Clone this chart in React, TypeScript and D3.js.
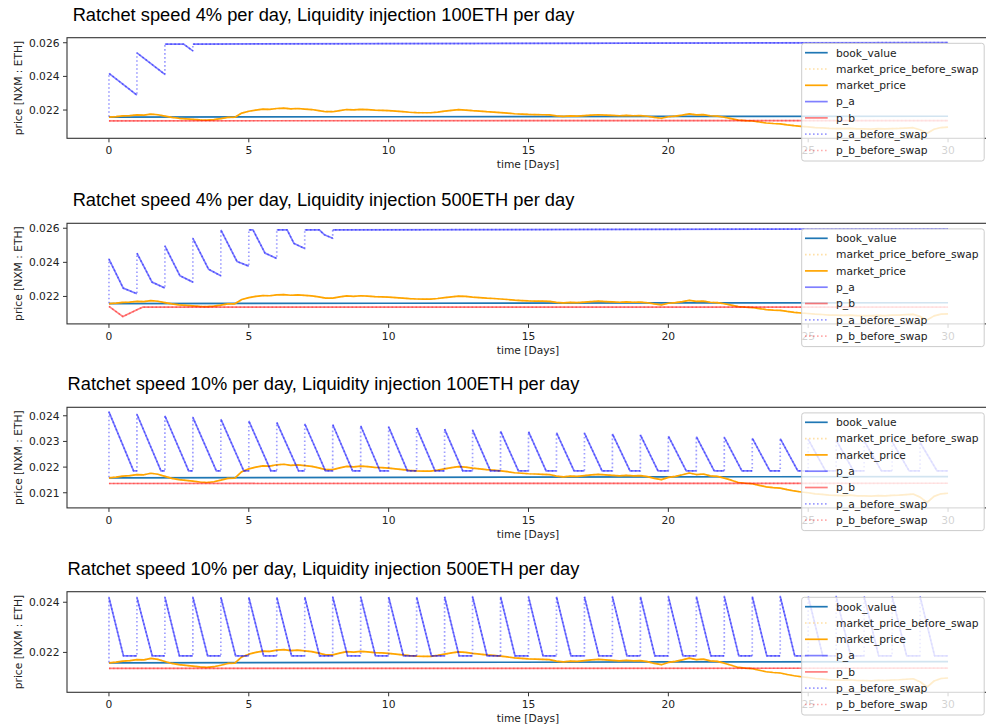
import React from "react";
import * as d3 from "d3";

// ---------- data ----------
const titles = [
  "Ratchet speed 4% per day, Liquidity injection 100ETH per day",
  "Ratchet speed 4% per day, Liquidity injection 500ETH per day",
  "Ratchet speed 10% per day, Liquidity injection 100ETH per day",
  "Ratchet speed 10% per day, Liquidity injection 500ETH per day",
];
const xTicks = [0, 5, 10, 15, 20, 25, 30];
const yTicks1 = [0.022, 0.024, 0.026];
const yTicks2 = [0.022, 0.024, 0.026];
const yTicks3 = [0.021, 0.022, 0.023, 0.024];
const yTicks4 = [0.022, 0.024];
const yDomain1 = [0.02032, 0.0263];
const yDomain2 = [0.02039, 0.02629];
const yDomain3 = [0.02041, 0.02433];
const yDomain4 = [0.02041, 0.02442];

const legendLabels = [
  "book_value",
  "market_price_before_swap",
  "market_price",
  "p_a",
  "p_b",
  "p_a_before_swap",
  "p_b_before_swap",
];

// book value (time in days, price)
const bookT = [0, 10, 20, 30];
const bookV = [0.02158, 0.0216, 0.02162, 0.02163];

// market price sampled every 0.25 day from t = 0 to 30
const marketStep = 0.25;
const marketV = [
  0.02158, 0.02161, 0.02165, 0.02167, 0.02171, 0.0217, 0.02176, 0.02172,
  0.02164, 0.02156, 0.02151, 0.02148, 0.02145, 0.02142, 0.0214, 0.02143,
  0.02149, 0.02156, 0.02157, 0.02182, 0.02193, 0.022, 0.02205, 0.02204,
  0.02209, 0.02211, 0.02207, 0.02209, 0.02206, 0.02203, 0.02197, 0.0219,
  0.0219, 0.02197, 0.02203, 0.02201, 0.02204, 0.02202, 0.02199, 0.02198,
  0.02196, 0.02193, 0.0219, 0.02187, 0.02185, 0.02184, 0.02184, 0.02188,
  0.02193, 0.02198, 0.02202, 0.022, 0.02196, 0.02193, 0.0219, 0.02188,
  0.02185, 0.02182, 0.02178, 0.02176, 0.02174, 0.02173, 0.02172, 0.02171,
  0.02165, 0.02162, 0.02165, 0.02164, 0.02167, 0.0217, 0.02172, 0.0217,
  0.02168, 0.02166, 0.02168, 0.02166, 0.02167, 0.02163, 0.02156, 0.02151,
  0.0216, 0.02164, 0.0217, 0.02177, 0.02171, 0.02173, 0.02166, 0.02164,
  0.02157, 0.02149, 0.0214, 0.02137, 0.02135, 0.02129, 0.02123, 0.0212,
  0.02118, 0.02112, 0.02107, 0.02103, 0.021, 0.02096, 0.02094, 0.02091,
  0.0209, 0.02089, 0.02091, 0.02088, 0.02088, 0.02087, 0.02089, 0.02088,
  0.0209, 0.02091, 0.02093, 0.02095, 0.02083, 0.02062, 0.02086, 0.02096,
  0.02098,
];

const bookStart = 0.0216;

// p_a, panel 1 (4%, 100ETH): vertices; repeated times are jumps
const pa1T = [0, 1, 1, 2, 2, 2.67, 3, 3, 30];
const pa1V = [0.02418, 0.02289, 0.0254, 0.02412, 0.02592, 0.02592, 0.02552, 0.02592, 0.02601];

// p_a, panel 2 (4%, 500ETH)
const pa2T = [0, 0.51, 1, 1, 1.54, 2, 2, 2.54, 3, 3, 3.56, 4, 4, 4.58, 5, 5, 5.15, 5.58, 6, 6, 6.37, 6.62, 7, 7, 7.52, 7.7, 8, 8, 30];
const pa2V = [
  0.02419, 0.02249, 0.02216, 0.02454, 0.02284, 0.02249, 0.02496, 0.02321, 0.02284,
  0.02541, 0.0236, 0.02321, 0.0259, 0.02405, 0.02378, 0.0259, 0.0259, 0.02454, 0.02423,
  0.0259, 0.0259, 0.0251, 0.02481, 0.0259, 0.0259, 0.02562, 0.02541, 0.0259, 0.02597,
];

// p_a, panel 3 (10%, 100ETH): daily peak and fraction of day to reach the floor
const pa3Peak = [
  0.02415, 0.02406, 0.024, 0.02394, 0.02387, 0.0238, 0.02374, 0.02369, 0.02366, 0.02361,
  0.02357, 0.02353, 0.02348, 0.02344, 0.0234, 0.02338, 0.02334, 0.02332, 0.02329, 0.02326,
  0.02321, 0.02319, 0.02316, 0.02313, 0.02311, 0.02308, 0.02305, 0.02302, 0.02299, 0.02296,
];
const pa3Frac = [
  0.88, 0.86, 0.85, 0.84, 0.82, 0.79, 0.78, 0.74, 0.71, 0.69,
  0.67, 0.66, 0.65, 0.64, 0.64, 0.63, 0.63, 0.63, 0.63, 0.63,
  0.64, 0.64, 0.63, 0.63, 0.63, 0.62, 0.62, 0.62, 0.61, 0.61,
];
const pa3Floor = 0.02185;

// p_a, panel 4 (10%, 500ETH)
const pa4Peak = [
  0.02419, 0.02419, 0.0242, 0.0242, 0.0242, 0.0242, 0.0242, 0.02421, 0.02421, 0.02421,
  0.02421, 0.02421, 0.02422, 0.02422, 0.02422, 0.02422, 0.02422, 0.02422, 0.02422, 0.02422,
  0.02423, 0.02423, 0.02423, 0.02423, 0.02423, 0.02423, 0.02423, 0.02423, 0.02423, 0.02423,
];
const pa4Frac = [
  0.52, 0.55, 0.52, 0.53, 0.53, 0.53, 0.53, 0.53, 0.53, 0.53,
  0.53, 0.53, 0.52, 0.52, 0.52, 0.52, 0.52, 0.52, 0.52, 0.52,
  0.52, 0.52, 0.52, 0.52, 0.52, 0.52, 0.52, 0.52, 0.52, 0.52,
];
const pa4Floor = 0.02186;

// p_b
const pbFlatT = [0, 30];
const pbFlatV = [0.02136, 0.02137];
const pb2T = [0, 0.5, 1.02, 1.2, 30];
const pb2V = [0.02142, 0.02082, 0.02123, 0.02137, 0.02137];

// ---------- helpers ----------
type P = [number, number];
const zip = (t: number[], v: number[]): P[] => t.map((x, i) => [x, v[i]] as P);
const sawtooth = (peaks: number[], fracs: number[], floor: number): P[] => {
  const pts: P[] = [];
  peaks.forEach((pk, k) => {
    pts.push([k, pk]);
    pts.push([k + fracs[k], floor]);
    pts.push([k + 1, floor]);
  });
  return pts;
};
// split into solid segments at vertical jumps
const splitJumps = (pts: P[]): P[][] => {
  const segs: P[][] = [];
  let cur: P[] = [];
  pts.forEach((p, i) => {
    if (i > 0 && p[0] === pts[i - 1][0]) {
      segs.push(cur);
      cur = [];
    }
    cur.push(p);
  });
  segs.push(cur);
  return segs;
};

const marketPts: P[] = marketV.map((v, i) => [i * marketStep, v] as P);
const bookPts = zip(bookT, bookV);

const panels = [
  { title: titles[0], yTicks: yTicks1, yDomain: yDomain1, pa: zip(pa1T, pa1V), pb: zip(pbFlatT, pbFlatV) },
  { title: titles[1], yTicks: yTicks2, yDomain: yDomain2, pa: zip(pa2T, pa2V), pb: zip(pb2T, pb2V) },
  { title: titles[2], yTicks: yTicks3, yDomain: yDomain3, pa: sawtooth(pa3Peak, pa3Frac, pa3Floor), pb: zip(pbFlatT, pbFlatV) },
  { title: titles[3], yTicks: yTicks4, yDomain: yDomain4, pa: sawtooth(pa4Peak, pa4Frac, pa4Floor), pb: zip(pbFlatT, pbFlatV) },
];

// ---------- layout ----------
const W = 986;
const H = 728;
const axLeft = 67;
const axRight = 990;
const axTops = [37.7, 223.3, 407.3, 591.7];
const axH = 100.6;
const titleCx = 323.5;
const tickFont = 10.7;
const mono = "'DejaVu Sans', sans-serif";

const C_BOOK = "#1f77b4";
const C_MKT = "#ffa500";
const C_PA = "rgba(0,0,255,0.5)";
const C_PB = "rgba(255,0,0,0.5)";
const C_MKT_B = "rgba(255,165,0,0.35)";
const C_PA_B = "rgba(0,0,255,0.38)";
const C_PB_B = "rgba(255,0,0,0.32)";
const DOT = "1.6,2.4";

const legendStyles = [
  { c: C_BOOK, dash: undefined },
  { c: C_MKT_B, dash: DOT },
  { c: C_MKT, dash: undefined },
  { c: C_PA, dash: undefined },
  { c: C_PB, dash: undefined },
  { c: C_PA_B, dash: DOT },
  { c: C_PB_B, dash: DOT },
];

const x = d3.scaleLinear().domain([-1.5, 31.5]).range([axLeft, axRight]);

function Panel({ idx }: { idx: number }) {
  const p = panels[idx];
  const top = axTops[idx];
  const bottom = top + axH;
  const y = d3.scaleLinear().domain(p.yDomain).range([bottom, top]);
  const line = d3.line<P>().x((d) => x(d[0])).y((d) => y(d[1]));
  const clipId = `clip${idx}`;
  const paBefore: P[] = [[0, bookStart], ...p.pa];
  const lw = 1.7;
  const legTop = top + 5.6;
  const legLeft = 801.7;
  const legW = 182.5;
  const legH = 117.7;
  return (
    <g>
      <text x={titleCx} y={top - 17} textAnchor="middle" fontFamily="'Liberation Sans', Arial, sans-serif" fontSize={18.3} fill="#000">
        {p.title}
      </text>
      <defs>
        <clipPath id={clipId}>
          <rect x={axLeft} y={top} width={axRight - axLeft} height={axH} />
        </clipPath>
      </defs>
      <g clipPath={`url(#${clipId})`} fill="none" strokeLinejoin="round">
        <path d={line(bookPts) || ""} stroke={C_BOOK} strokeWidth={lw} />
        <path d={line(marketPts) || ""} stroke={C_MKT_B} strokeWidth={lw} strokeDasharray={DOT} />
        <path d={line(marketPts) || ""} stroke={C_MKT} strokeWidth={lw} />
        {splitJumps(p.pa).map((s, i) => (
          <path key={i} d={line(s) || ""} stroke={C_PA} strokeWidth={lw} />
        ))}
        {splitJumps(p.pb).map((s, i) => (
          <path key={i} d={line(s) || ""} stroke={C_PB} strokeWidth={lw} />
        ))}
        <path d={line(paBefore) || ""} stroke={C_PA_B} strokeWidth={lw} strokeDasharray={DOT} />
        <path d={line(p.pb) || ""} stroke={C_PB_B} strokeWidth={lw} strokeDasharray={DOT} />
      </g>
      <rect x={axLeft} y={top} width={axRight - axLeft} height={axH} fill="none" stroke="#333" strokeWidth={1.1} />
      {xTicks.map((t) => (
        <g key={t}>
          <line x1={x(t)} x2={x(t)} y1={bottom} y2={bottom + 4} stroke="#333" strokeWidth={1} />
          <text x={x(t)} y={bottom + 15.8} textAnchor="middle" fontFamily={mono} fontSize={tickFont} fill="#222">
            {t}
          </text>
        </g>
      ))}
      {p.yTicks.map((t) => (
        <g key={t}>
          <line x1={axLeft - 4} x2={axLeft} y1={y(t)} y2={y(t)} stroke="#333" strokeWidth={1} />
          <text x={axLeft - 7.5} y={y(t)} dy="0.36em" textAnchor="end" fontFamily={mono} fontSize={tickFont} fill="#222">
            {t.toFixed(3)}
          </text>
        </g>
      ))}
      <text x={528} y={bottom + 30} textAnchor="middle" fontFamily={mono} fontSize={tickFont} fill="#222">
        time [Days]
      </text>
      <text
        transform={`translate(18,${(top + bottom) / 2}) rotate(-90)`}
        dy="0.36em"
        textAnchor="middle"
        fontFamily={mono}
        fontSize={tickFont}
        fill="#222"
      >
        price [NXM : ETH]
      </text>
      <g>
        <rect x={legLeft} y={legTop} width={legW} height={legH} rx={2.5} fill="#fff" fillOpacity={0.8} stroke="#cccccc" strokeWidth={1} />
        {legendLabels.map((lab, i) => {
          const cy = legTop + 9.4 + i * 16.3;
          const st = legendStyles[i];
          return (
            <g key={lab}>
              <line x1={805} x2={827.7} y1={cy} y2={cy} stroke={st.c} strokeWidth={lw} strokeDasharray={st.dash} />
              <text x={836} y={cy} dy="0.36em" fontFamily={mono} fontSize={tickFont} fill="#222">
                {lab}
              </text>
            </g>
          );
        })}
      </g>
    </g>
  );
}

export default function App() {
  return (
    <svg
      width={W}
      height={H}
      viewBox={`0 0 ${W} ${H}`}
      style={{ position: "absolute", left: 0, top: 0, background: "#fff" }}
    >
      <rect x={0} y={0} width={W} height={H} fill="#fff" />
      {panels.map((_, i) => (
        <Panel key={i} idx={i} />
      ))}
    </svg>
  );
}
